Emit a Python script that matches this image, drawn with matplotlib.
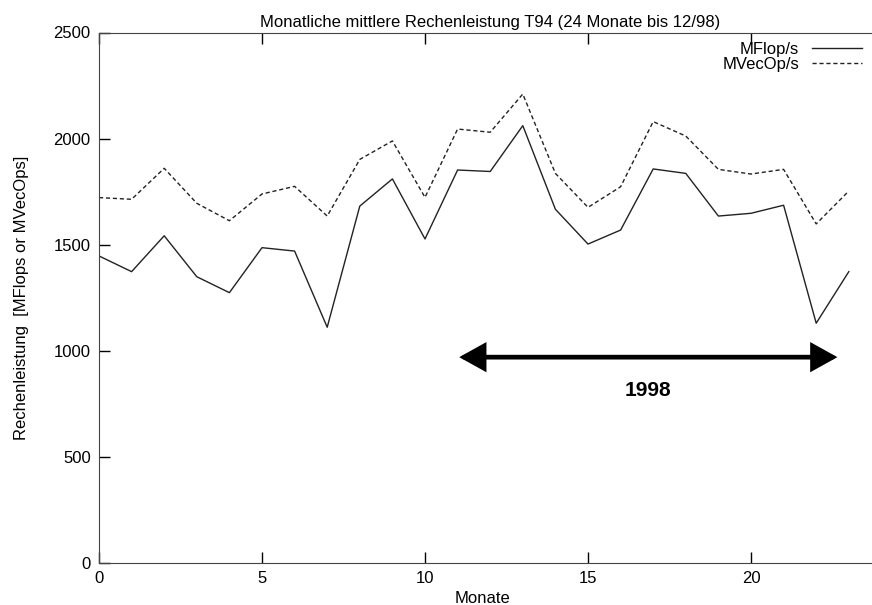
import matplotlib
matplotlib.use("Agg")
from matplotlib import pyplot as plt

plt.rcParams['font.family'] = ['Liberation Sans', 'DejaVu Sans']

# Monate 0..23
Monate = list(range(24))

MFlops = [1447, 1373, 1542, 1349, 1274, 1486, 1470, 1111, 1682, 1810, 1527, 1852,
          1845, 2061, 1667, 1503, 1569, 1857, 1836, 1635, 1648, 1686, 1130, 1373]

MVecOps = [1722, 1714, 1860, 1695, 1613, 1739, 1775, 1635, 1902, 1989, 1723, 2045,
           2030, 2210, 1836, 1676, 1773, 2080, 2012, 1855, 1833, 1855, 1598, 1753]

JahrLabel = "1998"
JahrVon = 11.05
JahrBis = 22.65

##############################################################################
# Graphique
fig = plt.figure(figsize=(8.72, 6.05), dpi=100)
ax = fig.add_axes([99/872, 42/605, 782.4/872, 530.5/605])

ax.plot(Monate, MFlops, '-', color='#222222', lw=1.0, label='MFlop/s')
ax.plot(Monate, MVecOps, '--', color='#222222', lw=1.0, dashes=(3, 2), label='MVecOp/s')

ax.set_xlim(0, 24)
ax.set_ylim(0, 2500)
ax.set_xticks([0, 5, 10, 15, 20])
ax.set_yticks([0, 500, 1000, 1500, 2000, 2500])
ax.tick_params(direction='in', length=8, width=1, top=True, right=False, labelsize=12, pad=6)
ax.spines['right'].set_visible(False)
for s in ax.spines.values():
    s.set_color('#444444')

ax.set_title('Monatliche mittlere Rechenleistung T94 (24 Monate bis 12/98)', fontsize=12, pad=4)
ax.set_xlabel('Monate', fontsize=12)
ax.xaxis.set_label_coords(0.49, -0.052)
ax.xaxis.label.set_va('top')
ax.set_ylabel('Rechenleistung  [MFlops or MVecOps]', fontsize=12, labelpad=18)

# Pfeil 1998
ax.annotate('', xy=(JahrBis, 970), xytext=(JahrVon, 970),
            arrowprops=dict(arrowstyle='<|-|>,head_length=0.9,head_width=0.5',
                            lw=3.4, color='black', mutation_scale=16,
                            shrinkA=0, shrinkB=0, joinstyle='miter'))
ax.text((JahrVon + JahrBis) / 2, 815, JahrLabel, fontsize=15, fontweight='bold',
        ha='center', va='center')

ax.legend(loc='upper right', bbox_to_anchor=(874/872, 1 - 30/605),
          bbox_transform=fig.transFigure, frameon=False, markerfirst=False,
          fontsize=12, handlelength=3.0, handletextpad=0.8, labelspacing=0.0,
          borderpad=0.2)

plt.savefig('out.png', dpi=100)
